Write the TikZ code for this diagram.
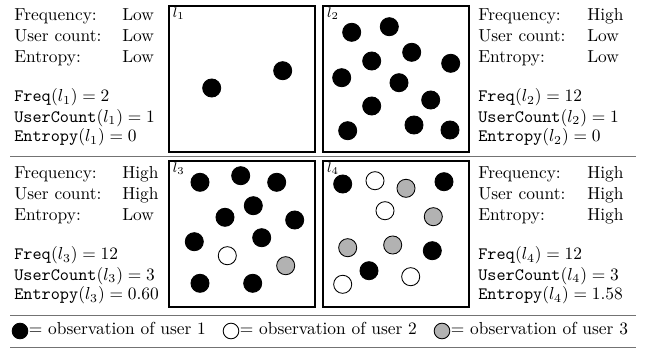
\documentclass[tikz,border=0pt]{standalone}
\begin{document}
\begin{tikzpicture}[x=0.575pt,y=-0.575pt,
  txt/.style={anchor=base west,inner sep=0pt,font=\fontsize{10}{12}\selectfont},
  lbl/.style={anchor=north west,inner sep=0pt,font=\footnotesize},
  frame/.style={draw=black,line width=1.1pt},
  rule/.style={draw=black!55,line width=0.6pt},
  dotbase/.style={circle,draw=black,line width=0.5pt,minimum size=10.4pt,inner sep=0pt},
  ua/.style={dotbase,fill=black},
  ub/.style={dotbase,fill=white},
  uc/.style={dotbase,fill=black!30},
  legbase/.style={circle,draw=black,line width=0.5pt,minimum size=9pt,inner sep=0pt},
  la/.style={legbase,fill=black},
  lb/.style={legbase,fill=white},
  lc/.style={legbase,fill=black!30}
]
\useasboundingbox (0,0) rectangle (649,351);

% rules
\coordinate (r1a) at (10,156.3);
\coordinate (r1b) at (636,156.3);
\coordinate (r2a) at (10,315.7);
\coordinate (r2b) at (636,315.7);
\coordinate (r3a) at (10,347.3);
\coordinate (r3b) at (636,347.3);
\draw[rule] (r1a) -- (r1b);
\draw[rule] (r2a) -- (r2b);
\draw[rule] (r3a) -- (r3b);

% frames
\draw[frame] (169,6) rectangle (315.3,152);
\draw[frame] (323.3,6) rectangle (468.7,152);
\draw[frame] (169,161) rectangle (315.3,306.7);
\draw[frame] (323.3,161) rectangle (468.7,306.7);

\node[lbl] (n1) at (172.5,7.8) {$l_1$};
\node[lbl] (n2) at (326.8,7.8) {$l_2$};
\node[lbl] (n3) at (172.5,162.8) {$l_3$};
\node[lbl] (n4) at (326.8,162.8) {$l_4$};

% top-left text
\node[txt] (a1) at (14,20.7) {Frequency:};
\node[txt] (a2) at (122,20.7) {Low};
\node[txt] (a3) at (14,41.3) {User count:};
\node[txt] (a4) at (122,41.3) {Low};
\node[txt] (a5) at (14,62) {Entropy:};
\node[txt] (a6) at (122,62) {Low};
\node[txt] (a7) at (14,101.7) {\texttt{Freq}$(l_1) = 2$};
\node[txt] (a8) at (14,122) {\texttt{UserCount}$(l_1) = 1$};
\node[txt] (a9) at (14,141.7) {\texttt{Entropy}$(l_1) = 0$};

% top-right text
\node[txt] (b1) at (478,20.7) {Frequency:};
\node[txt] (b2) at (587,20.7) {High};
\node[txt] (b3) at (478,41.3) {User count:};
\node[txt] (b4) at (587,41.3) {Low};
\node[txt] (b5) at (478,62) {Entropy:};
\node[txt] (b6) at (587,62) {Low};
\node[txt] (b7) at (478,101.7) {\texttt{Freq}$(l_2) = 12$};
\node[txt] (b8) at (478,122) {\texttt{UserCount}$(l_2) = 1$};
\node[txt] (b9) at (478,141.7) {\texttt{Entropy}$(l_2) = 0$};

% bottom-left text
\node[txt] (c1) at (14,178.7) {Frequency:};
\node[txt] (c2) at (122,178.7) {High};
\node[txt] (c3) at (14,199.3) {User count:};
\node[txt] (c4) at (122,199.3) {High};
\node[txt] (c5) at (14,220) {Entropy:};
\node[txt] (c6) at (122,220) {Low};
\node[txt] (c7) at (14,259.7) {\texttt{Freq}$(l_3) = 12$};
\node[txt] (c8) at (14,280) {\texttt{UserCount}$(l_3) = 3$};
\node[txt] (c9) at (14,299.7) {\texttt{Entropy}$(l_3) = 0.60$};

% bottom-right text
\node[txt] (d1) at (478,178.7) {Frequency:};
\node[txt] (d2) at (587,178.7) {High};
\node[txt] (d3) at (478,199.3) {User count:};
\node[txt] (d4) at (587,199.3) {High};
\node[txt] (d5) at (478,220) {Entropy:};
\node[txt] (d6) at (587,220) {High};
\node[txt] (d7) at (478,259.7) {\texttt{Freq}$(l_4) = 12$};
\node[txt] (d8) at (478,280) {\texttt{UserCount}$(l_4) = 3$};
\node[txt] (d9) at (478,299.7) {\texttt{Entropy}$(l_4) = 1.58$};

% l1 dots
\node[ua] (p11) at (211.7,88) {};
\node[ua] (p12) at (282.7,70.7) {};

% l2 dots
\node[ua] (p21) at (351.7,32.3) {};
\node[ua] (p22) at (389.3,26.7) {};
\node[ua] (p23) at (371.7,61) {};
\node[ua] (p24) at (411.7,52.3) {};
\node[ua] (p25) at (450.7,63.3) {};
\node[ua] (p26) at (341.7,77.7) {};
\node[ua] (p27) at (399,82.7) {};
\node[ua] (p28) at (430.7,100) {};
\node[ua] (p29) at (371.7,106) {};
\node[ua] (p210) at (347.7,130.7) {};
\node[ua] (p211) at (414,125) {};
\node[ua] (p212) at (450,130) {};

% l3 dots
\node[ua] (p31) at (200,182.3) {};
\node[ua] (p32) at (240.7,175.7) {};
\node[ua] (p33) at (276.7,182.3) {};
\node[ua] (p34) at (253.3,205.7) {};
\node[ua] (p35) at (225,217.3) {};
\node[ua] (p36) at (294.7,220) {};
\node[ua] (p37) at (194.3,241.7) {};
\node[ua] (p38) at (261.7,237.7) {};
\node[ub] (p39) at (227.3,255.7) {};
\node[uc] (p310) at (285.7,265.7) {};
\node[ua] (p311) at (200,283.3) {};
\node[ua] (p312) at (252.7,283.3) {};

% l4 dots
\node[ua] (p41) at (342.7,184) {};
\node[ub] (p42) at (375,180.7) {};
\node[uc] (p43) at (406,188.3) {};
\node[ua] (p44) at (444,181.7) {};
\node[ub] (p45) at (385,210.7) {};
\node[uc] (p46) at (433.3,216.7) {};
\node[uc] (p47) at (347.7,247.7) {};
\node[uc] (p48) at (392.7,245) {};
\node[ua] (p49) at (432.3,250.7) {};
\node[ua] (p410) at (369,270.7) {};
\node[ub] (p411) at (342.7,284.3) {};
\node[ub] (p412) at (410.7,276.7) {};

% legend
\node[la] (g1) at (20,331) {};
\node[txt] (t1) at (28.5,334.5) {= observation of user 1};
\node[lb] (g2) at (231,331) {};
\node[txt] (t2) at (239.5,334.5) {= observation of user 2};
\node[lc] (g3) at (442,331) {};
\node[txt] (t3) at (450.5,334.5) {= observation of user 3};
\end{tikzpicture}
\end{document}
